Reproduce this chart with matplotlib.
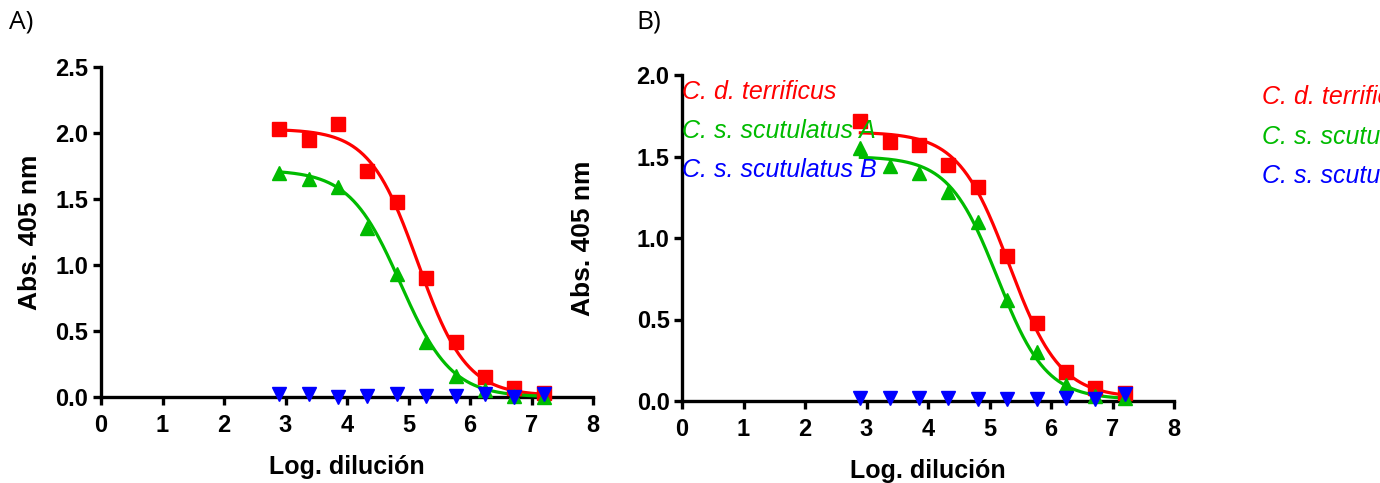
import numpy as np
import matplotlib
matplotlib.use("Agg")
import matplotlib.pyplot as plt

# ---------------- data ----------------
log_dil = [2.90, 3.38, 3.86, 4.33, 4.81, 5.29, 5.77, 6.24, 6.72, 7.20]

a_terrificus = [2.03, 1.95, 2.07, 1.71, 1.48, 0.90, 0.42, 0.15, 0.07, 0.03]
a_scut_A = [1.70, 1.65, 1.59, 1.28, 0.93, 0.42, 0.16, 0.05, 0.01, 0.00]
a_scut_B = [0.02, 0.02, 0.00, 0.01, 0.02, 0.01, 0.01, 0.02, 0.00, 0.02]

b_terrificus = [1.72, 1.59, 1.57, 1.45, 1.31, 0.89, 0.48, 0.18, 0.08, 0.05]
b_scut_A = [1.55, 1.44, 1.40, 1.28, 1.10, 0.62, 0.30, 0.10, 0.03, 0.02]
b_scut_B = [0.02, 0.02, 0.02, 0.02, 0.01, 0.01, 0.01, 0.02, 0.01, 0.04]

# fitted sigmoid (4PL) parameters: top, bottom, logEC50, hill
a_fit_terrificus = [2.03, 0.01, 5.15, 1.10]
a_fit_scut_A = [1.72, 0.00, 4.87, 1.05]
b_fit_terrificus = [1.65, 0.02, 5.32, 1.05]
b_fit_scut_A = [1.50, 0.01, 5.13, 1.10]

labels = ["C. d. terrificus", "C. s. scutulatus A", "C. s. scutulatus B"]
colors = ["#ff0000", "#00bb00", "#0000ff"]
markers = ["s", "^", "v"]
x_ticks = [0, 1, 2, 3, 4, 5, 6, 7, 8]

# ---------------- figure ----------------
W, H = 1380, 483
fig = plt.figure(figsize=(W / 100, H / 100), dpi=100)


def fourpl(x, p):
    top, bottom, x50, h = p
    return bottom + (top - bottom) / (1 + 10 ** ((x - x50) * h))


def style_axes(ax, ymax, yticks, ylabelpad):
    ax.set_xlim(0, 8)
    ax.set_ylim(0, ymax)
    ax.spines["top"].set_visible(False)
    ax.spines["right"].set_visible(False)
    for s in ("left", "bottom"):
        ax.spines[s].set_linewidth(2.4)
    ax.set_xticks(x_ticks)
    ax.set_yticks(yticks)
    ax.set_yticklabels([f"{v:.1f}" for v in yticks])
    ax.tick_params(axis="both", direction="out", length=6, width=2.4, pad=3)
    ax.tick_params(axis="x", pad=6)
    for lab in ax.get_xticklabels() + ax.get_yticklabels():
        lab.set_fontfamily("Liberation Sans")
        lab.set_fontweight("bold")
        lab.set_fontsize(17)
    ax.set_xlabel("Log. dilución", fontfamily="Liberation Sans", fontweight="bold", fontsize=18, labelpad=13)
    ax.set_ylabel("Abs. 405 nm", fontfamily="Liberation Sans", fontweight="bold", fontsize=19,
                  labelpad=ylabelpad)


def draw_panel(ax, series, fits):
    xs = np.linspace(log_dil[0], log_dil[-1], 300)
    for i, (vals, col, mk) in enumerate(zip(series, colors, markers)):
        if i < len(fits):
            ax.plot(xs, fourpl(xs, fits[i]), color=col, lw=2.3, zorder=3, clip_on=False)
        ax.plot(log_dil, vals, linestyle="none", marker=mk, color=col, markersize=9.5,
                zorder=4 + i, clip_on=False)


# Panel A
axA = fig.add_axes([101 / W, 1 - 397 / H, 492 / W, 330 / H])
draw_panel(axA, [a_terrificus, a_scut_A, a_scut_B], [a_fit_terrificus, a_fit_scut_A])
style_axes(axA, 2.5, [0.0, 0.5, 1.0, 1.5, 2.0, 2.5], 10)

# Panel B
axB = fig.add_axes([682 / W, 1 - 401 / H, 492 / W, 326 / H])
draw_panel(axB, [b_terrificus, b_scut_A, b_scut_B], [b_fit_terrificus, b_fit_scut_A])
style_axes(axB, 2.0, [0.0, 0.5, 1.0, 1.5, 2.0], 30)

# legend text inside panel B
leg_y = [92, 131, 170]
for lab, col, y in zip(labels, colors, leg_y):
    fig.text(682 / W, 1 - y / H, lab, color=col, fontsize=18, fontstyle="italic",
             fontfamily="Liberation Sans", ha="left", va="center")

# legend repeated at the right edge (cut off by the figure border, as in the source)
leg_y2 = [97, 137, 176]
for lab, col, y in zip(labels, colors, leg_y2):
    fig.text(1262 / W, 1 - y / H, lab, color=col, fontsize=18, fontstyle="italic",
             fontfamily="Liberation Sans", ha="left", va="center")

# panel letters
fig.text(9 / W, 1 - 22 / H, "A)", fontsize=19, fontfamily="Open Sans", ha="left", va="center")
fig.text(636 / W, 1 - 22 / H, "B)", fontsize=19, fontfamily="Open Sans", ha="left", va="center")

fig.savefig("out.png", dpi=100)
